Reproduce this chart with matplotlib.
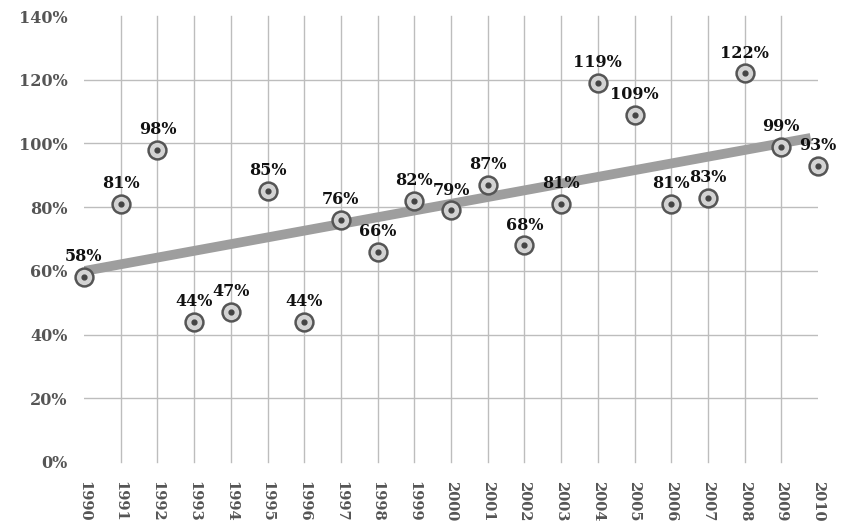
# -*- coding: utf-8 -*-
import matplotlib
matplotlib.use("Agg")
import matplotlib.pyplot as plt
import numpy as np

# 연도별 값 (%)
years = [1990, 1991, 1992, 1993, 1994, 1995, 1996, 1997, 1998, 1999, 2000,
         2001, 2002, 2003, 2004, 2005, 2006, 2007, 2008, 2009, 2010]
values = [58, 81, 98, 44, 47, 85, 44, 76, 66, 82, 79,
          87, 68, 81, 119, 109, 81, 83, 122, 99, 93]
y_ticks = [0, 20, 40, 60, 80, 100, 120, 140]

plt.rcParams['font.family'] = ['DejaVu Serif']

fig = plt.figure(figsize=(8.48, 5.27), dpi=100)
ax = fig.add_axes([84/848, 65/527, (818-84)/848, (462-16)/527])

# 격자선
for yr in years[1:-1]:
    ax.plot([yr, yr], [0, 140], color='#bdbdbd', lw=1, zorder=1, clip_on=False)
for t in y_ticks[1:-1]:
    ax.plot([years[0], years[-1]], [t, t], color='#bdbdbd', lw=1, zorder=1)

# 추세선 (선형 회귀)
x = np.array(years)
y = np.array(values)
k, b = np.polyfit(x, y, 1)
ax.plot([x[0], x[-1] - 0.2], [k*x[0]+b, k*(x[-1]-0.2)+b], color='#9e9e9e', lw=7,
        solid_capstyle='butt', zorder=2)

# 점
ax.scatter(x, y, s=165, facecolor='#d3d3d3', edgecolor='#555555',
           linewidth=1.8, zorder=3, clip_on=False)
ax.scatter(x, y, s=12, color='#444444', zorder=4, clip_on=False)

for xi, yi in zip(years, values):
    ax.annotate('%d%%' % yi, (xi, yi), xytext=(0, 8.5), textcoords='offset points',
                ha='center', va='bottom', fontsize=11.5, fontweight='bold',
                color='#111111', zorder=5)

ax.set_xlim(years[0], years[-1])
ax.set_ylim(0, 140)
ax.set_yticks(y_ticks)
ax.set_yticklabels(['%d%%' % t for t in y_ticks])
ax.set_xticks(years)
ax.set_xticklabels([str(yr) for yr in years], rotation=-90)
for lab in ax.get_yticklabels():
    lab.set_fontweight('bold')
    lab.set_color('#555555')
    lab.set_fontsize(11.5)
for lab in ax.get_xticklabels():
    lab.set_fontweight('bold')
    lab.set_color('#555555')
    lab.set_fontsize(10.5)
ax.tick_params(length=0)
ax.tick_params(axis='y', pad=12)
ax.tick_params(axis='x', pad=14)
for s in ax.spines.values():
    s.set_visible(False)

fig.savefig('out.png', dpi=100)
